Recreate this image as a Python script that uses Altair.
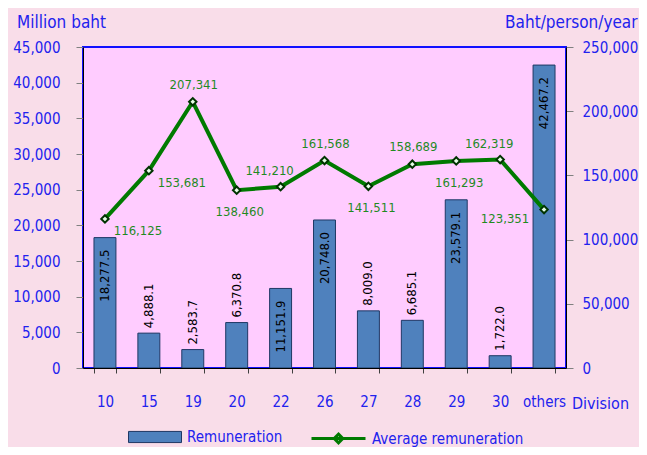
import altair as alt
import pandas as pd

# ---- data ----
divisions = ["10", "15", "19", "20", "22", "26", "27", "28", "29", "30", "others"]
remuneration = [18277.5, 4888.1, 2583.7, 6370.8, 11151.9, 20748.0, 8009.0, 6685.1, 23579.1, 1722.0, 42467.2]
average_remuneration = [116125, 153681, 207341, 138460, 141210, 161568, 141511, 158689, 161293, 162319, 123351]
left_ticks = [0, 5000, 10000, 15000, 20000, 25000, 30000, 35000, 40000, 45000]
right_ticks = [0, 50000, 100000, 150000, 200000, 250000]

df = pd.DataFrame({
    "division": divisions,
    "rem": remuneration,
    "avg": average_remuneration,
})
df["s1"] = "Remuneration"
df["s2"] = "Average remuneration"
df["rem_label"] = [f"{v:,.1f}" for v in remuneration]
df["avg_label"] = [f"{v:,}" for v in average_remuneration]

# ---- style ----
FONT = "DejaVu Sans Condensed, Noto Sans, sans-serif"
BLUE = "#2222EE"
GREEN_LINE = "#007A00"
GREEN_TEXT = "#1F8A1F"
BAR_FILL = "#4F81BD"
BAR_STROKE = "#1F3864"
MARKER_FILL = "#E6FFE6"

# label placement groups for the average-remuneration labels
above = ["19", "26", "28"]
above_left = ["22", "30"]
below = ["20", "27", "29"]
right_side = ["10", "15"]
left_side = ["others"]

x_enc = alt.X(
    "division:N", sort=divisions,
    scale=alt.Scale(paddingInner=0.5, paddingOuter=0.25),
    axis=alt.Axis(
        title="Division", titleX=517, titleY=35, titleAlign="center",
        titleBaseline="middle", titleFont=FONT, titleFontSize=16,
        titleColor=BLUE, titleFontWeight="normal",
        labelAngle=0, labelFont=FONT, labelFontSize=15, labelColor=BLUE,
        labelPadding=21, tickBand="extent", tickSize=5, tickColor="#404040",
        domainColor="black", grid=False, zindex=1,
    ),
)

y_left = alt.Y(
    "rem:Q",
    scale=alt.Scale(domain=[0, 45000], nice=False),
    axis=alt.Axis(
        title="Million baht", values=left_ticks, format=",d", grid=False,
        domainColor="black", tickColor="#808080", tickSize=7, labelPadding=16,
        labelFont=FONT, labelFontSize=15, labelColor=BLUE,
        titleFont=FONT, titleFontSize=17, titleColor=BLUE, titleFontWeight="normal",
        titleAngle=0, titleAlign="center", titleBaseline="alphabetic",
        titleX=-22, titleY=-20, zindex=1,
    ),
)

y_right = alt.Y(
    "avg:Q",
    scale=alt.Scale(domain=[0, 250000], nice=False),
    axis=alt.Axis(
        orient="right",
        title="Baht/person/year", values=right_ticks, format=",d", grid=False,
        domainColor="black", tickColor="#808080", tickSize=7, labelPadding=9,
        labelFont=FONT, labelFontSize=15, labelColor=BLUE,
        titleFont=FONT, titleFontSize=17, titleColor=BLUE, titleFontWeight="normal",
        titleAngle=0, titleAlign="right", titleBaseline="alphabetic",
        titleX=71, titleY=-20, zindex=1,
    ),
)

base = alt.Chart(df)

bars = base.mark_bar(stroke=BAR_STROKE, strokeWidth=1).encode(
    x=x_enc,
    y=y_left,
    fill=alt.Fill(
        "s1:N",
        scale=alt.Scale(range=[BAR_FILL]),
        legend=alt.Legend(
            title=None, orient="none", legendX=45, legendY=363, padding=0,
            symbolType="M-1,-0.21H1V0.21H-1Z", symbolSize=2809,
            symbolStrokeColor=BAR_STROKE, symbolStrokeWidth=1, symbolOpacity=1,
            labelFont=FONT, labelFontSize=15, labelColor=BLUE, labelOffset=5,
        ),
    ),
)

bar_text_out = base.transform_filter(alt.datum.rem < 10000).mark_text(
    angle=270, align="left", baseline="middle", dx=5,
    font=FONT, fontSize=13, color="black",
).encode(x=x_enc, y=y_left, text="rem_label:N")

bar_text_in = base.transform_filter(alt.datum.rem >= 10000).mark_text(
    angle=270, align="right", baseline="middle", dx=-12,
    font=FONT, fontSize=13, color="black",
).encode(x=x_enc, y=y_left, text="rem_label:N")

left_layer = alt.layer(bars, bar_text_out, bar_text_in)

line = base.mark_line(strokeWidth=4).encode(
    x=x_enc,
    y=y_right,
    stroke=alt.Stroke(
        "s2:N",
        scale=alt.Scale(range=[GREEN_LINE]),
        legend=alt.Legend(
            title=None, orient="none", legendX=227, legendY=363, padding=0,
            symbolType="M-1,0H1M0,-0.16L0.16,0L0,0.16L-0.16,0Z", symbolSize=2916,
            symbolStrokeWidth=3, symbolFillColor=MARKER_FILL,
            labelFont=FONT, labelFontSize=15, labelColor=BLUE, labelOffset=5,
        ),
    ),
)

points = base.mark_point(
    shape="diamond", filled=True, fill=MARKER_FILL, stroke="#003300",
    strokeWidth=2, size=55, opacity=1,
).encode(x=x_enc, y=y_right)


def avg_labels(group, dx, dy):
    return base.transform_filter(
        alt.FieldOneOfPredicate(field="division", oneOf=group)
    ).mark_text(
        align="center", baseline="middle", dx=dx, dy=dy,
        font=FONT, fontSize=13, color=GREEN_TEXT,
    ).encode(x=x_enc, y=y_right, text="avg_label:N")


right_layer = alt.layer(
    line, points,
    avg_labels(above, 1, -17),
    avg_labels(above_left, -11, -16),
    avg_labels(below, 3, 22),
    avg_labels(right_side, 33, 12),
    avg_labels(left_side, -39, 9),
)

chart = alt.layer(left_layer, right_layer).resolve_scale(
    y="independent", fill="independent"
).properties(
    width=483, height=321,
    autosize=alt.AutoSizeParams(type="none"),
    padding={"left": 75, "top": 39, "right": 73, "bottom": 79},
    background="#F9DDE9",
).configure_view(
    fill="#FFCCFF", stroke="#1010FF", strokeWidth=2,
)

chart.save("out.html", embed_options={"renderer": "svg", "actions": False})
